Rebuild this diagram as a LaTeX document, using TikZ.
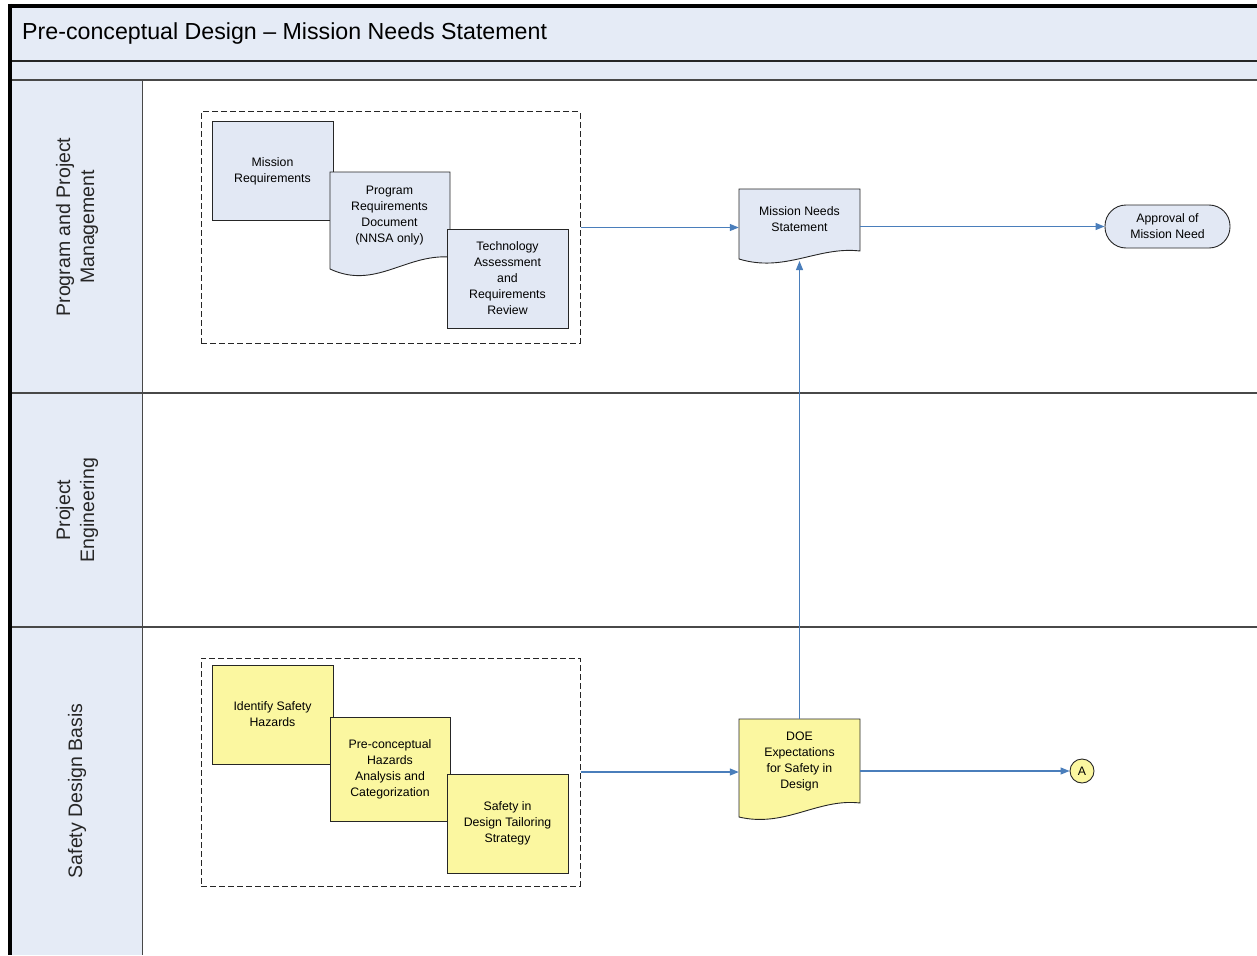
\documentclass[tikz,border=0pt]{standalone}
\usepackage{fontspec}
\setmainfont{Liberation Sans}
\usetikzlibrary{arrows.meta}
\definecolor{lanebg}{RGB}{229,235,246}
\definecolor{boxblue}{RGB}{226,232,244}
\definecolor{boxyel}{RGB}{251,247,160}
\definecolor{flowc}{RGB}{74,126,187}
\definecolor{linec}{RGB}{72,72,72}
\begin{document}
\begin{tikzpicture}[x=1pt,y=-1pt,
  box/.style={draw=black!85, line width=0.9pt, minimum width=121pt, minimum height=99pt, align=center, font=\fontsize{12.3}{16}\selectfont, inner sep=1pt},
  bluebox/.style={box, fill=boxblue},
  yelbox/.style={box, fill=boxyel},
  docline/.style={draw=black!85, line width=0.9pt},
  doctext/.style={align=center, font=\fontsize{12.3}{16}\selectfont, inner sep=0pt, minimum width=121pt},
  grp/.style={draw=black!85, line width=1pt, dash pattern=on 6pt off 3pt},
  flow/.style={draw=flowc, line width=1.1pt, -{Triangle[length=9pt,width=7pt]}},
  lanelabel/.style={rotate=90, align=center, font=\fontsize{19.5}{24}\selectfont, text=black!85},
]
\useasboundingbox (0,0) rectangle (1257,955);
% swimlane frame
\fill[lanebg] (10,6) rectangle (1257,80);
\fill[lanebg] (10,80) rectangle (142,955);
\draw[line width=1pt, linec] (142,80) -- (142,955);
\draw[line width=1.5pt, linec] (10,393) -- (1257,393);
\draw[line width=1.5pt, linec] (10,627) -- (1257,627);
\draw[line width=1.5pt, linec] (10,80) -- (1257,80);
\draw[line width=2.6pt, black!85] (10,61) -- (1257,61);
\draw[line width=3.6pt] (8,6) -- (1257,6);
\draw[line width=4pt] (10,4) -- (10,955);
\node[anchor=west, font=\fontsize{23.2}{27}\selectfont, inner sep=0pt] (title) at (22,34) {Pre-conceptual Design -- Mission Needs Statement};
% lane labels
\node[lanelabel] (l1) at (77,227) {Program and Project\\Management};
\node[lanelabel] (l2) at (77,510) {Project\\Engineering};
\node[lanelabel] (l3) at (77,791) {Safety Design Basis};
% top group
\node[grp, minimum width=379pt, minimum height=231pt] (g1) at (390.5,227.5) {};
\node[bluebox] (mr) at (272.5,171) {Mission\\Requirements};
\filldraw[docline, fill=boxblue] (330,172) -- (450,172) -- (450,257) .. controls (405,254) and (375,290) .. (330,269) -- cycle;
\node[doctext, minimum width=120pt] (prd) at (389.5,216) {Program\\Requirements\\Document\\(NNSA only)};
\node[bluebox] (tar) at (507.5,278.5) {Technology\\Assessment\\and\\Requirements\\Review};
% mission needs statement
\filldraw[docline, fill=boxblue] (739,189) -- (860,189) -- (860,251) .. controls (818,246) and (785,273) .. (739,259) -- cycle;
\node[doctext, minimum height=58pt] (mns) at (799.5,219) {Mission Needs\\Statement};
\coordinate (mnsb) at (799.5,261);
\node[draw=black!85, line width=0.9pt, fill=boxblue, rounded corners=21pt, minimum width=125pt, minimum height=43pt, align=center, font=\fontsize{12.3}{16}\selectfont, inner sep=0pt] (appr) at (1167.5,226.5) {Approval of\\Mission Need};
% bottom group
\node[grp, minimum width=379pt, minimum height=228pt] (g2) at (390.5,772) {};
\node[yelbox] (ish) at (272.5,714.5) {Identify Safety\\Hazards};
\node[yelbox, minimum width=120pt, minimum height=104pt] (pha) at (390,769) {Pre-conceptual\\Hazards\\Analysis and\\Categorization};
\node[yelbox] (sdt) at (507.5,823.5) {Safety in\\Design Tailoring\\Strategy};
% DOE expectations
\filldraw[docline, fill=boxyel] (739,719) -- (860,719) -- (860,803) .. controls (818,798) and (785,828) .. (739,817) -- cycle;
\node[doctext, minimum height=84pt] (doe) at (799.5,761) {DOE\\Expectations\\for Safety in\\Design};
\node[circle, draw=black!85, line width=0.9pt, fill=boxyel, minimum size=24pt, inner sep=0pt, font=\fontsize{12.3}{14}\selectfont] (ca) at (1082,771) {A};
% connectors
\draw[flow] (g1.east) -- (g1.east -| mns.west);
\draw[flow] (mns.east |- appr.west) -- (appr.west);
\draw[flow] (doe.north) -- (mnsb);
\draw[flow] (g2.east) -- (g2.east -| doe.west);
\draw[flow] (doe.east |- ca.west) -- (ca.west);
\end{tikzpicture}
\end{document}
